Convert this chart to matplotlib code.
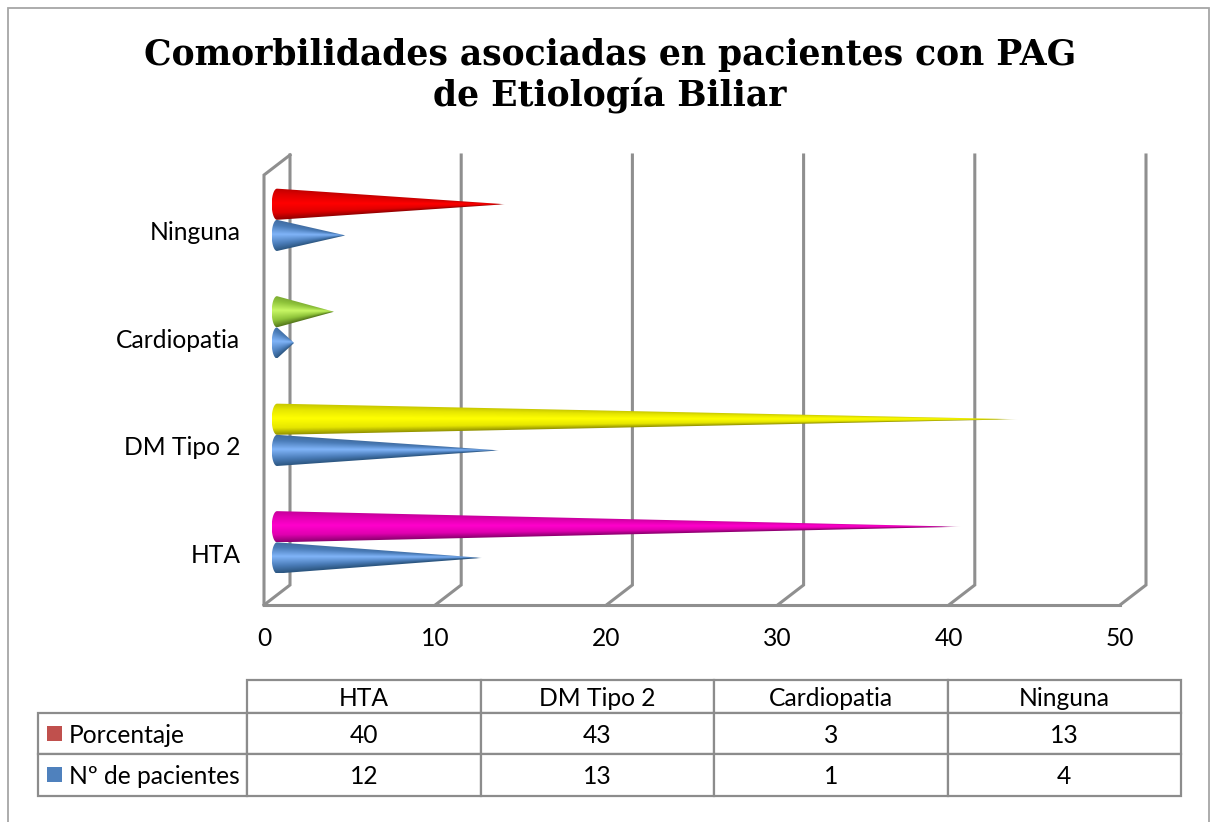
import numpy as np
import matplotlib
matplotlib.use('Agg')
import matplotlib.pyplot as plt
from matplotlib.colors import to_rgb
from matplotlib.patches import Polygon, Rectangle
from matplotlib.transforms import Affine2D, ScaledTranslation

categorias = ['HTA', 'DM Tipo 2', 'Cardiopatia', 'Ninguna']
pacientes = [12, 13, 1, 4]
porcentaje = [40, 43.33, 3.33, 13.33]
porcentaje_tabla = ['40', '43', '3', '13']
pacientes_tabla = ['12', '13', '1', '4']
xticks = [0, 10, 20, 30, 40, 50]

# (borde oscuro, borde superior, centro) de cada cono
azul = ('#2c5680', '#4a7cb8', '#80b4f8')
colores_pct = [('#8f0072', '#e000b0', '#ff00cc'),
               ('#8f8f00', '#e6e600', '#ffff00'),
               ('#55781c', '#8fc43a', '#c8f765'),
               ('#8f0000', '#e00000', '#ff0000')]

W, H = 1210, 822
plt.rcParams['font.family'] = ['Lato', 'DejaVu Sans']
fig = plt.figure(figsize=(W / 100, H / 100), dpi=100)
gris = '#8f8f8f'

# marco del grafico, cortado por abajo
fig.add_artist(Rectangle((8 / W, -0.05), 1201 / W, 1.05 - 8 / H, transform=fig.transFigure,
                         fill=False, ec='#a6a6a6', lw=1.3))

fig.text(610 / W, 1 - 76 / H, 'Comorbilidades asociadas en pacientes con PAG\nde Etiología Biliar',
         family='DejaVu Serif', weight='bold', fontsize=24.9, ha='center', va='center', linespacing=1.24)

# plano frontal: 0..50 en x, una unidad por categoria en y
ax = fig.add_axes([264 / W, 1 - 605 / H, 856 / W, 430 / H])
ax.patch.set_visible(False)
for s in ax.spines.values():
    s.set_visible(False)
dx = 26 / (856 / 50)
dy = 20 / 107.5


def cono(y, valor, cols, z=3):
    x0 = 0.5 * dx
    r = 0.145
    a = 0.31
    xs = np.linspace(x0 - a, x0 + valor, 500)
    ys = np.linspace(y - r, y + r, 120)
    X, Y = np.meshgrid(xs, ys)
    radio = np.clip(r * (1 - (X - x0) / valor), 1e-4, None)
    t = (Y - y) / radio  # -1 abajo, 1 arriba
    osc, sup, cen = [np.array(to_rgb(c)) for c in cols]
    img = np.zeros(X.shape + (4,))
    for k in range(3):
        img[..., k] = np.interp(t, [-1, -0.55, 0.05, 0.6, 1],
                                [osc[k], sup[k], cen[k], sup[k], sup[k] * 0.85])
    fade = np.clip((x0 + valor - X) / max(valor * 0.03, 0.08), 0, 1)
    img[..., 3] = fade
    im = ax.imshow(img, extent=(xs[0], xs[-1], ys[0], ys[-1]), origin='lower',
                   aspect='auto', zorder=z, interpolation='bilinear')
    ang = np.linspace(np.pi / 2, 3 * np.pi / 2, 30)
    borde = np.column_stack([x0 + a * np.cos(ang), y + r * np.sin(ang)])
    pts = np.vstack([borde, [[x0 + valor, y]]])
    im.set_clip_path(Polygon(pts, closed=True, transform=ax.transData))


# paredes y suelo
for v in xticks:
    ax.plot([v, v + dx, v + dx], [0, dy, 4 + dy], color=gris, lw=2.2, clip_on=False, zorder=1,
            solid_joinstyle='miter')
ax.plot([0, 50], [0, 0], color=gris, lw=2.2, clip_on=False, zorder=1)
ax.plot([0, 0, dx], [0, 4, 4 + dy], color=gris, lw=2.2, clip_on=False, zorder=1, solid_joinstyle='miter')

for i in range(len(categorias)):
    yc = i + 0.5 + dy / 2 - 0.01
    cono(yc + 0.145, porcentaje[i], colores_pct[i])
    cono(yc - 0.145, pacientes[i], azul)

ax.set_xlim(0, 50)
ax.set_ylim(0, 4)
ax.set_xticks(xticks)
ax.set_yticks([i + 0.5 for i in range(len(categorias))])
ax.set_yticklabels(categorias)
ax.tick_params(axis='both', length=0, labelsize=17.7)
ax.tick_params(axis='x', pad=16)
ax.tick_params(axis='y', pad=17)
baja = ScaledTranslation(0, -4 / 100, fig.dpi_scale_trans)
for lab in ax.get_yticklabels():
    lab.set_va('center')
    lab.set_transform(lab.get_transform() + baja)

# tabla de datos
tx = fig.add_axes([38 / W, 1 - 796 / H, 1143 / W, 116 / H])
tx.axis('off')
filas = [[''] + categorias,
         ['Porcentaje'] + porcentaje_tabla,
         ['Nº de pacientes'] + pacientes_tabla]
tabla = tx.table(cellText=filas, bbox=[0, 0, 1, 1], cellLoc='center',
                 colWidths=[209, 233.5, 233.5, 233.5, 233.5])
tabla.auto_set_font_size(False)
tabla.set_fontsize(17.7)
altos = [33, 41, 42]
for (f, c), cel in tabla.get_celld().items():
    cel.set_height(altos[f])
    cel.set_edgecolor('#8c8c8c')
    cel.set_linewidth(1.6)
    cel.get_text().set_transform(Affine2D().translate(0, -1.5))
    if c == 0:
        cel.PAD = 31 / 209
        cel.get_text().set_ha('left')
        cel._loc = 'left'
tabla[0, 0].visible_edges = ''
for fila, color in [(713, '#c0504d'), (754, '#4f81bd')]:
    y = fila + 13
    fig.add_artist(Rectangle((47 / W, 1 - (y + 15) / H), 15 / W, 15 / H,
                             transform=fig.transFigure, fc=color, ec='none'))

fig.savefig('out.png', dpi=100)
